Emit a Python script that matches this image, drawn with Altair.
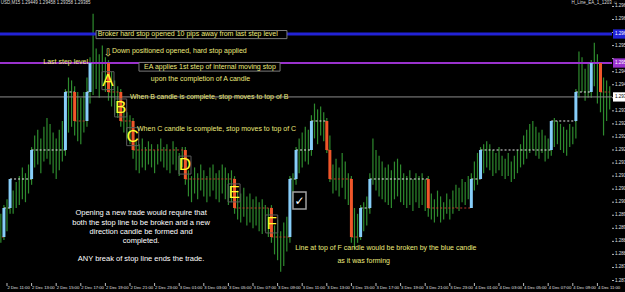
import altair as alt
import pandas as pd

# Prices are stored as pips above 1.29000 (M15 bars, hours counted from 2 Dec 11:00)
BASE = 1.29

bar_high = [
    -2, 1, 3, 10, 6, 9, 11, 14, 12, 15,
    21, 25, 27, 24, 28, 31, 29, 26, 24, 27,
    30, 41, 45, 44, 42, 40, 38, 40, 45, 52,
    67, 55, 53, 56, 52, 51, 47, 44, 42, 41,
    35, 33, 32, 31, 23, 22, 24, 21, 23, 22,
    20, 22, 24, 21, 22, 20, 23, 21, 19, 21,
    21, 13, 11, 14, 12, 15, 13, 11, 14, 15,
    12, 13, 15, 14, 12, 13, 11, 6, 5, 7,
    4, 5, 3, 4, 2, 3, 1, 0, 1, -6,
    -4, -8, -5, -3, 11, 12, 21, 24, 26, 28,
    27, 32, 36, 34, 35, 33, 31, 25, 15, 17,
    14, 19, 16, 12, 11, 0, -2, 1, 2, 4,
    12, 24, 20, 18, 16, 14, 15, 13, 16, 17,
    15, 12, 11, 13, 10, 12, 11, 12, 10, 11,
    5, 3, 6, 4, 2, 5, 3, 6, 8, 7,
    10, 9, 11, 12, 16, 19, 21, 22, 23, 22,
    20, 19, 21, 18, 17, 19, 16, 18, 20, 22,
    25, 27, 29, 30, 28, 26, 27, 25, 24, 30,
    31, 30, 29, 28, 27, 29, 28, 41, 54, 52,
    48, 50, 51, 57, 53, 50, 45, 44, 42]

bar_low = [
    -12, -11, -8, -2, -2, 0, 1, 3, 2, 5,
    8, 14, 15, 12, 16, 17, 15, 12, 10, 13,
    16, 18, 26, 28, 25, 23, 22, 26, 28, 36,
    39, 41, 38, 42, 40, 37, 35, 32, 31, 28,
    26, 24, 22, 17, 13, 12, 14, 13, 15, 14,
    12, 15, 16, 14, 13, 12, 15, 13, 11, 14,
    8, 4, 2, 5, 3, 6, 4, 2, 4, 6,
    3, 2, 5, 3, 1, 2, -2, -4, -5, -3,
    -6, -5, -7, -6, -8, -9, -8, -10, -12, -16,
    -18, -22, -20, -15, -12, 2, 8, 12, 14, 16,
    15, 18, 24, 22, 25, 23, 19, 9, 5, 6,
    4, 7, 3, 1, -12, -14, -12, -11, -8, -6,
    -2, 8, 6, 4, 3, 2, 1, 0, 3, 4,
    2, 1, 0, 1, -1, 2, 0, 1, -1, -3,
    -4, -5, -3, -5, -4, -2, -4, -2, 0, -1,
    2, 1, 3, 2, 6, 8, 10, 12, 14, 13,
    11, 12, 13, 11, 10, 11, 9, 10, 12, 14,
    15, 17, 19, 20, 18, 17, 19, 16, 17, 18,
    21, 22, 20, 19, 18, 21, 22, 24, 38, 40,
    37, 38, 38, 42, 36, 33, 25, 30, 34]

# 10-pip step candles: bar index, level from, level to
step_idx = [-1, 1, 3, 10, 21, 24, 28, 29, 35, 39, 43, 60, 76, 88, 94, 96, 101, 106, 107, 114,
            117, 120, 139, 153, 156, 179, 187, 192, 195]
step_from = [0, -10, 0, 10, 20, 40, 30, 40, 50, 40, 30, 20, 10, 0, -10, 10, 20, 30, 20, 10,
             -10, 0, 10, 0, 10, 20, 30, 40, 50]
step_to = [-10, 0, 10, 20, 40, 30, 40, 50, 40, 30, 20, 10, 0, -10, 10, 20, 30, 20, 10, -10,
           0, 10, 0, 10, 20, 30, 40, 50, 40]

# horizontal object lines (pips)
hline_level = [60, 50, 38.3]
hline_color = ["#2222d6", "#9a32cd", "#8c8c8c"]
hline_width = [3, 2, 1]
hline_label = ["1.29600", "1.29500", "1.29383"]
hline_label_color = ["#ffffff", "#ffffff", "#000000"]
hline_box_color = ["#2222d6", "#9a32cd", "#ffffff"]

y_ticks = [69.5, 65.0, 60.5, 56.0, 51.5, 47.0, 42.5, 38.0, 33.5, 29.0, 24.5, 20.0, 15.5,
           11.0, 6.5, 2.0, -2.5, -7.0, -11.5, -16.0, -20.5, -25.0]
x_tick_hours = [0, 2, 4, 6, 8, 10, 12, 14, 16, 18, 20, 22, 24, 26, 28, 30, 32, 34, 36, 38,
                40, 42, 44, 46, 48]
x_tick_labels = ["2 Dec 11:00", "2 Dec 13:00", "2 Dec 15:00", "2 Dec 17:00", "2 Dec 19:00",
                 "2 Dec 21:00", "2 Dec 23:00", "3 Dec 01:00", "3 Dec 03:00", "3 Dec 05:00",
                 "3 Dec 07:00", "3 Dec 09:00", "3 Dec 11:00", "3 Dec 13:00", "3 Dec 15:00",
                 "3 Dec 17:00", "3 Dec 19:00", "3 Dec 21:00", "3 Dec 23:00", "4 Dec 01:00",
                 "4 Dec 03:00", "4 Dec 05:00", "4 Dec 07:00", "4 Dec 09:00", "4 Dec 11:00"]

letters = ["A", "B", "C", "D", "E", "F"]
letter_t = [8.21, 9.24, 10.22, 14.47, 18.46, 21.52]
letter_p = [43.9, 34.5, 24.6, 14.8, 5.2, -5.5]

yellow_left = [("Broker hard stop opened 10 pips away from last step level", 7.37, 60.0),
               ("Down positioned opened, hard stop applied", 8.54, 54.2),
               ("When B candle is complete, stop moves to top of B", 10.0, 38.4),
               ("When C candle is complete, stop moves to top of C", 10.57, 27.2)]
yellow_right = [("Last step level", 6.59, 50.3)]
yellow_center = [("EA applies 1st step of internal moving stop", 16.5, 48.7),
                 ("upon the completion of A candle", 15.73, 44.5),
                 ("Line at top of F candle would be broken by the blue candle", 30.8, -13.8),
                 ("as it was forming", 29.0, -18.3)]
white_center = [("Opening a new trade would require that", 10.9, -1.75),
                ("both the stop line to be broken and a new", 10.9, -5.1),
                ("direction candle be formed and", 10.9, -8.3),
                ("completed.", 10.9, -11.4),
                ("ANY break of stop line ends the trade.", 10.9, -17.6)]
text_boxes = [(7.24, 22.76, 58.4, 61.2), (10.73, 22.2, 47.2, 50.2)]
check_box = (23.25, 24.31, -0.35, 5.5)
check_pos = (23.78, 2.4)
arrow_pos = (8.21, 53.6)

FONT = "Liberation Sans"
W, H = 612, 283
xs = alt.Scale(domain=[-0.569, 49.187], nice=False, zero=False)
ys = alt.Scale(domain=[-25.86, 71.72], nice=False, zero=False)


def t_of(i):
    return -0.5 + 0.25 * i


bars_df = pd.DataFrame({"t": [t_of(i) for i in range(len(bar_high))], "hi": bar_high, "lo": bar_low})
dirs = ["up" if b > a else "down" for a, b in zip(step_from, step_to)]
steps_df = pd.DataFrame({"t": [t_of(i) for i in step_idx], "p0": step_from, "p1": step_to, "dir": dirs})
ends = step_idx[1:] + [len(bar_high) - 1]
dash_df = pd.DataFrame({"t0": [t_of(i) for i in step_idx], "t1": [t_of(i) for i in ends],
                        "p": step_to, "dir": dirs})
hl_df = pd.DataFrame({"p": hline_level, "c": hline_color, "w": hline_width,
                      "lab": hline_label, "lc": hline_label_color, "bc": hline_box_color})
hl_df["lo"] = hl_df["p"] - 1.6
hl_df["hi"] = hl_df["p"] + 1.6

x_axis = alt.Axis(values=list(range(0, 50)), labels=False, ticks=False,
                  domainColor="#bbbbbb", gridColor="#4a4a4a", gridDash=[1, 2], title=None)
y_axis = alt.Axis(orient="right", values=y_ticks, labels=False, ticks=False,
                  domainColor="#bbbbbb", gridColor="#4a4a4a", gridDash=[1, 2], title=None)

bars = alt.Chart(bars_df).mark_rule(color="#2e8b2e", strokeWidth=1.2).encode(
    x=alt.X("t:Q", scale=xs, axis=x_axis),
    y=alt.Y("lo:Q", scale=ys, axis=y_axis),
    y2="hi:Q")

dashes = alt.Chart(dash_df).mark_rule(strokeDash=[2, 2], strokeWidth=1).encode(
    x=alt.X("t0:Q", scale=xs, axis=None), x2="t1:Q",
    y=alt.Y("p:Q", scale=ys, axis=None),
    color=alt.Color("dir:N", scale=alt.Scale(domain=["up", "down"], range=["#e6e6e6", "#c0392b"]),
                    legend=None))

hlines = alt.Chart(hl_df).mark_rule().encode(
    y=alt.Y("p:Q", scale=ys, axis=None),
    color=alt.Color("c:N", scale=None),
    strokeWidth=alt.StrokeWidth("w:Q", scale=None))

steps = alt.Chart(steps_df).mark_rule(strokeWidth=3).encode(
    x=alt.X("t:Q", scale=xs, axis=None),
    y=alt.Y("p0:Q", scale=ys, axis=None), y2="p1:Q",
    color=alt.Color("dir:N", scale=alt.Scale(domain=["up", "down"], range=["#87cefa", "#f0562a"]),
                    legend=None))

lb_df = pd.DataFrame({"t0": [t - 0.49 for t in letter_t], "t1": [t + 0.49 for t in letter_t],
                      "p0": [p - 3.1 for p in letter_p], "p1": [p + 3.1 for p in letter_p]})
letter_boxes = alt.Chart(lb_df).mark_rect(fill="black", fillOpacity=0, stroke="#5c5c5c",
                                          strokeWidth=1).encode(
    x=alt.X("t0:Q", scale=xs, axis=None), x2="t1:Q",
    y=alt.Y("p0:Q", scale=ys, axis=None), y2="p1:Q")

tb_df = pd.DataFrame(text_boxes, columns=["t0", "t1", "p0", "p1"])
tboxes = alt.Chart(tb_df).mark_rect(fill="black", stroke="#7a7a7a", strokeWidth=1).encode(
    x=alt.X("t0:Q", scale=xs, axis=None), x2="t1:Q",
    y=alt.Y("p0:Q", scale=ys, axis=None), y2="p1:Q")


def text_layer(rows, align, color, size):
    df = pd.DataFrame(rows, columns=["txt", "t", "p"])
    return alt.Chart(df).mark_text(align=align, baseline="middle", font=FONT, fontSize=size,
                                   color=color).encode(
        x=alt.X("t:Q", scale=xs, axis=None),
        y=alt.Y("p:Q", scale=ys, axis=None),
        text="txt:N")


YEL = "#ecea7c"
t_left = text_layer(yellow_left, "left", YEL, 7)
t_right = text_layer(yellow_right, "right", YEL, 7)
t_center = text_layer(yellow_center, "center", YEL, 7)
t_white = text_layer(white_center, "center", "#ffffff", 7.5)

let_df = pd.DataFrame({"txt": letters, "t": letter_t, "p": letter_p})
t_letters = alt.Chart(let_df).mark_text(align="center", baseline="middle", font=FONT,
                                        fontSize=17, color="#ffff2e").encode(
    x=alt.X("t:Q", scale=xs, axis=None), y=alt.Y("p:Q", scale=ys, axis=None), text="txt:N")

arrow = alt.Chart(pd.DataFrame({"txt": ["⇩"], "t": [arrow_pos[0]], "p": [arrow_pos[1]]})).mark_text(
    align="center", baseline="middle", font="DejaVu Sans", fontSize=10, color=YEL).encode(
    x=alt.X("t:Q", scale=xs, axis=None), y=alt.Y("p:Q", scale=ys, axis=None), text="txt:N")

cb_df = pd.DataFrame([check_box], columns=["t0", "t1", "p0", "p1"])
cbox = alt.Chart(cb_df).mark_rect(fill="black", stroke="#a0a0a0", strokeWidth=1.5).encode(
    x=alt.X("t0:Q", scale=xs, axis=None), x2="t1:Q",
    y=alt.Y("p0:Q", scale=ys, axis=None), y2="p1:Q")
check = alt.Chart(pd.DataFrame({"txt": ["✓"], "t": [check_pos[0]], "p": [check_pos[1]]})).mark_text(
    align="center", baseline="middle", font="DejaVu Sans", fontSize=12, color="#ffffff").encode(
    x=alt.X("t:Q", scale=xs, axis=None), y=alt.Y("p:Q", scale=ys, axis=None), text="txt:N")

head_df = pd.DataFrame({"txt": ["USD,M15  1.29449 1.29458 1.29358 1.29385", "H_Line_EA_1_1203 ☺"],
                        "t": [-0.5, 45.9], "p": [70.8, 70.8]})
header = alt.Chart(head_df).mark_text(align="left", baseline="middle", font=FONT, fontSize=4.5,
                                      color="#dddddd").encode(
    x=alt.X("t:Q", scale=xs, axis=None), y=alt.Y("p:Q", scale=ys, axis=None), text="txt:N")

# price scale labels (right; those hidden under the object-line price boxes are skipped)
ylab_df = pd.DataFrame({"p": y_ticks, "lab": [f"{BASE + v / 10000:.5f}" for v in y_ticks]})
ylab_df = ylab_df[[min(abs(v - h) for h in hline_level) > 2.2 for v in y_ticks]]
ylabels = alt.Chart(ylab_df).mark_text(align="left", baseline="middle", font=FONT, fontSize=4.5,
                                       color="#e0e0e0").encode(
    x=alt.value(615), y=alt.Y("p:Q", scale=ys, axis=None), text="lab:N")
yticks = alt.Chart(pd.DataFrame({"p": y_ticks})).mark_rule(color="#bbbbbb").encode(
    x=alt.value(612), x2=alt.value(614), y=alt.Y("p:Q", scale=ys, axis=None))

# time scale labels (bottom)
xlab_df = pd.DataFrame({"t": x_tick_hours, "lab": x_tick_labels})
xlabels = alt.Chart(xlab_df).mark_text(align="left", baseline="middle", font=FONT, fontSize=4.2,
                                       color="#e0e0e0", dx=0.5).encode(
    x=alt.X("t:Q", scale=xs, axis=None), y=alt.value(288), text="lab:N")
xticks = alt.Chart(xlab_df).mark_rule(color="#bbbbbb").encode(
    x=alt.X("t:Q", scale=xs, axis=None), y=alt.value(283), y2=alt.value(286))

hl_box = alt.Chart(hl_df).mark_rect().encode(
    x=alt.value(613), x2=alt.value(640),
    y=alt.Y("lo:Q", scale=ys, axis=None), y2="hi:Q",
    color=alt.Color("bc:N", scale=None))
hl_text = alt.Chart(hl_df).mark_text(align="left", baseline="middle", font=FONT, fontSize=4.5).encode(
    x=alt.value(615), y=alt.Y("p:Q", scale=ys, axis=None), text="lab:N",
    color=alt.Color("lc:N", scale=None))

chart = alt.layer(
    bars, dashes, hlines, steps, letter_boxes, tboxes,
    t_left, t_right, t_center, t_white, t_letters, arrow, cbox, check, header,
    ylabels, yticks, xlabels, xticks, hl_box, hl_text
).resolve_scale(color="independent").properties(
    width=W, height=H,
    autosize=alt.AutoSizeParams(type="none"),
    padding={"left": 0, "top": 0, "right": 13, "bottom": 9},
    background="black"
).configure_view(strokeWidth=0)

chart.save("out.html", embed_options={"renderer": "svg", "actions": False})
